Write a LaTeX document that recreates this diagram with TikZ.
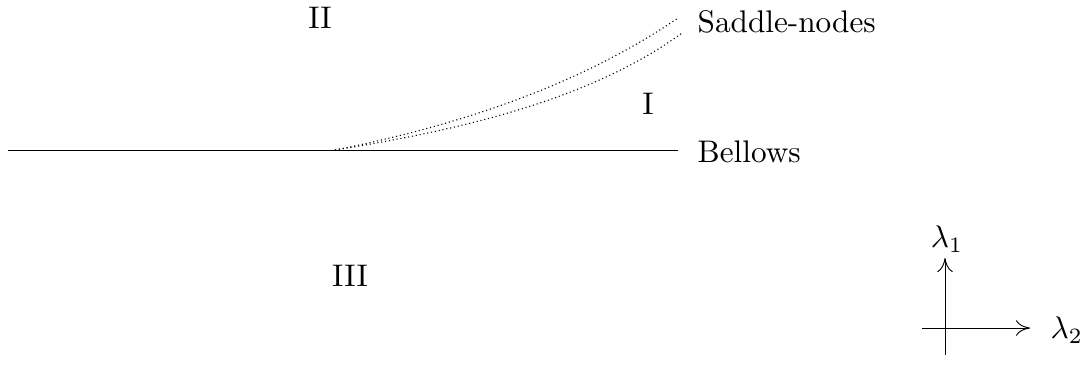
\documentclass[tikz,border=0pt]{standalone}
\usetikzlibrary{arrows.meta,positioning}
\tikzset{lbl/.style={inner sep=0pt,font=\normalsize},sn/.style={dash pattern=on 0.35pt off 0.9pt,line width=0.35pt},ax/.style={-{To[length=4.5pt,width=5pt]},line width=0.3pt}}

\begin{document}
\begin{tikzpicture}[x=0.32pt,y=-0.32pt]
\useasboundingbox (0,0) rectangle (1085,391);
\coordinate (bl) at (8,150);\coordinate (br) at (678,150);\coordinate (cusp) at (335,150);
\coordinate (sn1) at (678,18);\coordinate (sn2) at (682,33);
\node[lbl,anchor=west] (bel) at (697,152) {Bellows};\node[lbl,anchor=west] (sad) at (697,22) {Saddle-nodes};
\node[lbl] (r2) at (320,18) {II};\node[lbl] (r1) at (648,104) {I};\node[lbl] (r3) at (350,276) {III};
\draw[line width=0.3pt] (bl)--(br);
\draw[sn] (cusp) .. controls (460,125) and (580,85) .. (sn1);\draw[sn] (cusp) .. controls (460,130) and (590,100) .. (sn2);
% axes
\coordinate (o) at (945,328);\coordinate (vb) at (945,355);\coordinate (vt) at (945,258);\coordinate (hl) at (922,328);\coordinate (hr) at (1030,328);
\node[lbl] (l1) at (947,239) {$\lambda_1$};\node[lbl,anchor=west] (l2) at (1050,330) {$\lambda_2$};
\draw[ax] (vb)--(vt);\draw[ax] (hl)--(hr);
\end{tikzpicture}
\end{document}
